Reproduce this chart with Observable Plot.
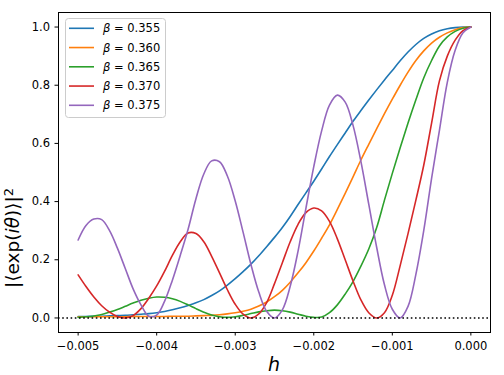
<!DOCTYPE html>
<html><head><meta charset="utf-8">
<script src="https://cdn.jsdelivr.net/npm/d3@7"></script>
<script src="https://cdn.jsdelivr.net/npm/@observablehq/plot@0.6"></script>
<style>body{margin:0;background:#fff}</style>
</head><body><div id="chart"></div>
<script>
// Series labels and colours
const betas = ["0.355", "0.360", "0.365", "0.370", "0.375"];
const colors = ["#1f77b4", "#ff7f0e", "#2ca02c", "#d62728", "#9467bd"];

// Tick values
const xTicks = [-0.005, -0.004, -0.003, -0.002, -0.001, 0.000];
const yTicks = [0.0, 0.2, 0.4, 0.6, 0.8, 1.0];

// h values at which the curves were read
const hGrid = [
  -0.0050, -0.0049, -0.0048, -0.0047, -0.0046, -0.0045, -0.0044, -0.0043, -0.0042, -0.0041,
  -0.0040, -0.0039, -0.0038, -0.0037, -0.0036, -0.0035, -0.0034, -0.0033, -0.0032, -0.0031,
  -0.0030, -0.0029, -0.0028, -0.0027, -0.0026, -0.0025, -0.0024, -0.0023, -0.0022, -0.0021,
  -0.0020, -0.0019, -0.0018, -0.0017, -0.0016, -0.0015, -0.0014, -0.0013, -0.0012, -0.0011,
  -0.0010, -0.0009, -0.0008, -0.0007, -0.0006, -0.0005, -0.0004, -0.0003, -0.0002, -0.0001, 0.0000
];

// |<exp(i theta)>|^2, one value per hGrid entry
const v355 = [0.005,0.005,0.006,0.006,0.007,0.008,0.009,0.011,0.013,0.015,
  0.018,0.022,0.028,0.035,0.043,0.052,0.063,0.077,0.093,0.113,
  0.135,0.159,0.185,0.214,0.245,0.277,0.311,0.349,0.39,0.43,
  0.47,0.512,0.555,0.596,0.636,0.676,0.713,0.749,0.784,0.818,
  0.851,0.884,0.914,0.94,0.961,0.976,0.987,0.994,0.998,1.0,1.0];
const v360 = [0.004,0.004,0.004,0.004,0.004,0.004,0.004,0.005,0.005,0.005,
  0.005,0.005,0.006,0.006,0.006,0.007,0.008,0.009,0.011,0.014,
  0.018,0.023,0.03,0.041,0.055,0.073,0.095,0.123,0.155,0.19,
  0.23,0.274,0.32,0.373,0.428,0.485,0.543,0.597,0.65,0.702,
  0.752,0.8,0.845,0.885,0.918,0.945,0.965,0.98,0.991,0.998,1.0];
const v365 = [0.002,0.004,0.007,0.012,0.02,0.029,0.04,0.051,0.061,0.068,
  0.072,0.071,0.066,0.057,0.045,0.032,0.02,0.01,0.004,0.002,
  0.004,0.009,0.015,0.021,0.025,0.027,0.025,0.02,0.013,0.006,
  0.002,0.003,0.018,0.045,0.082,0.125,0.178,0.237,0.31,0.405,
  0.497,0.585,0.67,0.75,0.825,0.885,0.935,0.966,0.985,0.996,1.0];
const v370 = [0.148,0.108,0.072,0.042,0.02,0.005,0.0,0.008,0.032,0.068,
  0.11,0.16,0.215,0.262,0.292,0.29,0.262,0.212,0.155,0.097,
  0.047,0.013,0.0,0.014,0.053,0.118,0.19,0.262,0.322,0.362,
  0.378,0.368,0.332,0.272,0.2,0.127,0.062,0.018,0.0,0.018,
  0.078,0.18,0.29,0.405,0.525,0.67,0.815,0.9,0.955,0.988,1.0];
const v375 = [0.268,0.318,0.34,0.338,0.3,0.24,0.17,0.1,0.045,0.006,
  0.01,0.057,0.13,0.215,0.305,0.41,0.495,0.54,0.537,0.488,
  0.402,0.295,0.184,0.089,0.023,0.0,0.028,0.109,0.23,0.377,
  0.52,0.643,0.732,0.766,0.742,0.662,0.538,0.391,0.244,0.114,
  0.03,0.0,0.04,0.15,0.3,0.48,0.645,0.81,0.92,0.98,1.0];

const series = [v355, v360, v365, v370, v375];
const data = series.flatMap((s, i) => s.map((v, j) => ({h: hGrid[j], v, beta: betas[i]})));

const fmtX = d => (d < 0 ? "\u2212" : "") + Math.abs(d).toFixed(3);

const plot = Plot.plot({
  width: 504, height: 375,
  marginLeft: 58, marginRight: 14, marginTop: 12, marginBottom: 43,
  style: {fontFamily: "DejaVu Sans", fontSize: "11.5px", color: "#000", background: "#fff", overflow: "visible"},
  x: {domain: [-0.00525, 0.00025]},
  y: {domain: [-0.05, 1.05]},
  color: {domain: betas, range: colors},
  marks: [
    Plot.axisX({ticks: xTicks, tickFormat: fmtX, tickSize: 3.5, tickPadding: 6, label: null}),
    Plot.axisY({ticks: yTicks, tickFormat: d => d.toFixed(1), tickSize: 3.5, tickPadding: 5, label: null}),
    Plot.line(data, {x: "h", y: "v", z: "beta", stroke: "beta", strokeWidth: 1.6, curve: "catmull-rom"}),
    Plot.ruleY([0], {stroke: "#000", strokeWidth: 1.6, strokeDasharray: "1.6,2.6"}),
    Plot.frame({stroke: "#000", strokeWidth: 1})
  ]
});
document.getElementById("chart").appendChild(plot);

const svg = d3.select(plot);

// Legend
const lg = svg.append("g").attr("text-anchor", "start");
lg.append("rect").attr("x", 65.5).attr("y", 18.5).attr("width", 100).attr("height", 99)
  .attr("rx", 3).attr("fill", "#fff").attr("fill-opacity", 0.8).attr("stroke", "#cccccc");
betas.forEach((b, i) => {
  const y = 28.3 + i * 19.25;
  lg.append("line").attr("x1", 69).attr("x2", 94).attr("y1", y).attr("y2", y)
    .attr("stroke", colors[i]).attr("stroke-width", 1.6);
  const t = lg.append("text").attr("x", 103).attr("y", y).attr("dy", "0.36em")
    .attr("text-anchor", "start").style("font-size", "11.5px").attr("fill", "#000");
  t.append("tspan").style("font-style", "italic").text("\u03b2");
  t.append("tspan").text(" = " + b);
});

// Axis labels
const yl = svg.append("text").attr("transform", "translate(19,238) rotate(-90)")
  .attr("text-anchor", "middle").style("font-size", "18.5px").attr("fill", "#000");
yl.append("tspan").text("|\u27e8exp(");
yl.append("tspan").style("font-style", "italic").text("i\u03b8");
yl.append("tspan").text(")\u27e9|");
yl.append("tspan").attr("dy", "-0.45em").style("font-size", "13px").text("2");

svg.append("text").attr("x", 274).attr("y", 370.5).attr("text-anchor", "middle")
  .style("font-size", "19px").style("font-style", "italic").attr("fill", "#000").text("h");
</script></body></html>
